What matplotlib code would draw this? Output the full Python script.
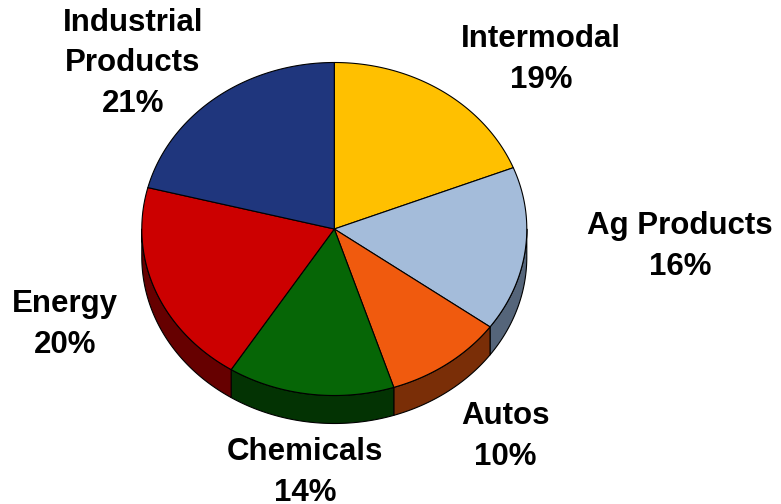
"""
Freight revenue mix - 3D style pie drawn with flat patches
"""
import numpy as np
import matplotlib
matplotlib.use("Agg")
import matplotlib.pyplot as plt
from matplotlib.patches import Polygon

# ── data ─────────────────────────────────────────────────────────────────────
labels = ["Intermodal", "Ag Products", "Autos", "Chemicals", "Energy",
          "Industrial\nProducts"]
shares = [19, 16, 10, 14, 20, 21]

top_colors  = ["#FFC000", "#A4BCDA", "#F05A0E", "#066606", "#CC0000", "#1F367D"]
side_colors = ["#7F6000", "#55657A", "#7A2E07", "#033303", "#660000", "#0F1B3E"]

# label anchors (x, baseline of last line) in pixels
label_pos = [(541, 88), (680, 275), (505, 465), (305, 501), (65, 353), (133, 112)]

# ── geometry (pixels) ────────────────────────────────────────────────────────
CX, CY = 334.3, 229.0
RX, RY = 192.5, 166.5
DEPTH = 28


def arc(a, b, dy=0.0, n=120):
    t = np.radians(np.linspace(a, b, n))
    return np.column_stack([CX + RX * np.cos(t), CY - RY * np.sin(t) + dy])


fig = plt.figure(figsize=(7.81, 5.04), dpi=100, facecolor="white")
ax = fig.add_axes([0, 0, 1, 1])
ax.set_xlim(0, 781)
ax.set_ylim(504, 0)
ax.axis("off")

edge = dict(edgecolor="black", linewidth=0.8, joinstyle="round")

cum = np.cumsum([0] + shares) / sum(shares)
starts = 90 - 360 * cum[:-1]
ends = 90 - 360 * cum[1:]

# side walls (front half only)
for t0, t1, col in zip(starts, ends, side_colors):
    a, b = min(t0, 0), max(t1, -180)
    if a <= b:
        continue
    top = arc(a, b)
    bot = arc(b, a, DEPTH)
    ax.add_patch(Polygon(np.vstack([top, bot]), closed=True,
                         facecolor=col, zorder=1, **edge))

# top faces
for t0, t1, col in zip(starts, ends, top_colors):
    pts = np.vstack([[CX, CY], arc(t0, t1)])
    ax.add_patch(Polygon(pts, closed=True, facecolor=col, zorder=2, **edge))

# labels
for lab, val, (x, y) in zip(labels, shares, label_pos):
    ax.text(x, y, f"{lab}\n{val}%", ha="center", va="baseline",
            fontsize=22.5, fontweight="bold", family="Liberation Sans",
            linespacing=1.46, color="black", zorder=5)

fig.savefig("out.png", dpi=100, facecolor="white")
